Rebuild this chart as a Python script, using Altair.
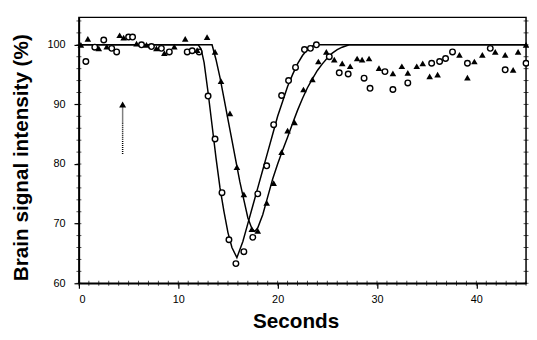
import altair as alt
import pandas as pd

# fitted curves
fit_c_x = [0, 12.0, 12.3, 12.6, 13.0, 13.4, 13.8, 14.2, 14.6, 15.0, 15.4, 15.9, 16.5, 17.0, 17.5, 18.0,
           18.5, 19.0, 19.5, 20.0, 20.5, 21.0, 21.5, 22.0, 22.5, 23.0, 23.5, 24.2, 45]
fit_c_y = [100, 100, 99.3, 97, 92, 86.5, 81, 76, 72, 68.5, 66, 64.3, 67.0, 70, 73, 76,
           79, 82, 85, 88, 90.5, 93, 95, 96.8, 98.2, 99.2, 99.8, 100, 100]
fit_t_x = [0, 13.4, 13.8, 14.2, 14.6, 15.0, 15.4, 15.8, 16.2, 16.6, 17.0, 17.4, 17.7, 18.0, 18.5, 19.0,
           19.5, 20.0, 20.5, 21.0, 21.5, 22.0, 22.5, 23.0, 23.5, 24.0, 24.5, 25.0, 25.5, 26.0, 26.5, 27.2, 45]
fit_t_y = [100, 100, 97.5, 94.5, 91, 87.5, 84, 80.5, 77, 74, 71, 69.2, 68.7, 69.3, 71.5, 74.5,
           77.5, 80, 82.3, 84.5, 86.8, 89, 91, 92.8, 94.3, 95.7, 96.8, 97.8, 98.6, 99.2, 99.6, 100, 100]

# open circles
circ_x = [0.7, 1.6, 2.5, 3.3, 3.8, 5.0, 5.4, 6.3, 7.3, 8.3, 9.1, 10.9, 11.4, 12.1,
          13.0, 13.7, 14.4, 15.1, 15.8, 16.6, 17.5, 18.0, 18.9, 19.6, 20.4, 21.1, 21.8, 22.7, 23.3, 23.9,
          25.2, 26.2, 27.1, 28.7, 29.3, 30.8, 31.6, 33.1, 35.5, 36.3, 36.9, 37.6, 39.1, 41.4, 42.9, 45.0]
circ_y = [97.2, 99.6, 100.8, 99.4, 98.8, 101.3, 101.3, 100.0, 99.7, 99.4, 98.8, 98.8, 99.0, 98.8,
          91.4, 84.2, 75.2, 67.3, 63.3, 65.3, 67.7, 75.0, 79.7, 86.6, 91.5, 94.0, 96.2, 99.2, 99.4, 100.0,
          98.0, 95.3, 95.1, 94.4, 92.7, 95.5, 92.5, 93.6, 96.9, 97.2, 97.7, 98.8, 96.9, 99.4, 95.8, 96.9]

# filled triangles
tri_x = [0.2, 0.9, 2.0, 2.8, 4.1, 4.5, 5.8, 6.8, 7.8, 8.6, 9.6, 10.7, 11.9, 12.9,
         13.7, 14.3, 15.2, 15.9, 16.6, 17.4, 18.0, 18.9, 19.6, 20.4, 21.0, 21.7, 22.6, 23.5, 24.1, 24.9,
         25.7, 26.5, 27.3, 28.0, 28.5, 29.2, 30.2, 31.6, 32.5, 33.1, 34.0, 34.6, 35.3, 36.1, 38.3,
         39.1, 39.8, 40.6, 41.9, 42.9, 43.7, 44.2, 45.0]
tri_y = [100.0, 101.0, 99.4, 99.7, 101.6, 101.2, 100.2, 100.0, 99.4, 98.6, 99.7, 101.0, 99.1, 101.3,
         98.8, 93.9, 88.5, 79.5, 74.9, 69.1, 68.8, 73.5, 76.8, 82.0, 85.6, 87.0, 92.5, 94.2, 97.2, 98.8,
         97.5, 96.9, 96.4, 97.7, 97.5, 97.7, 96.1, 95.2, 96.4, 95.3, 96.4, 96.9, 94.7, 95.0, 98.3,
         94.5, 97.2, 98.3, 98.8, 98.3, 95.8, 98.8, 100.0]

# arrow annotation
arrow_x = [4.4]
arrow_y0 = [81.7]
arrow_y1 = [90.0]

x_ticks = [0, 10, 20, 30, 40]
y_ticks = [60, 70, 80, 90, 100]
x_minor = list(range(0, 46))
y_minor = list(range(60, 105, 2))

W, H = 454, 270
XD = [0, 45]
YD = [60, 104.6]
xs = alt.Scale(domain=XD, nice=False, zero=False)
ys = alt.Scale(domain=YD, nice=False, zero=False)

fit_df = pd.concat([
    pd.DataFrame({"x": fit_c_x, "y": fit_c_y, "s": "c"}),
    pd.DataFrame({"x": fit_t_x, "y": fit_t_y, "s": "t"}),
])
circ_df = pd.DataFrame({"x": circ_x, "y": circ_y})
tri_df = pd.DataFrame({"x": tri_x, "y": tri_y})
arr_df = pd.DataFrame({"x": arrow_x, "y0": arrow_y0, "y1": arrow_y1})
xm_df = pd.DataFrame({"x": x_minor})
ym_df = pd.DataFrame({"y": y_minor})

FONT = "Liberation Sans"

main_x = alt.Axis(values=x_ticks, format="d", title="Seconds", orient="bottom",
                  grid=False, domainColor="black", domainWidth=1.5, tickColor="black",
                  tickSize=5, tickWidth=1.2, labelPadding=6, labelFont=FONT, labelFontSize=11,
                  labelColor="black", titleFont=FONT, titleFontSize=21, titleFontWeight="bold",
                  titleColor="black", titleX=220, titleY=39, titleBaseline="middle")
main_y = alt.Axis(values=y_ticks, format="d", title="Brain signal intensity (%)", orient="left",
                  grid=False, domainColor="black", domainWidth=1.5, tickColor="black",
                  tickSize=5, tickWidth=1.2, labelPadding=9, labelFont=FONT, labelFontSize=11,
                  labelColor="black", titleFont=FONT, titleFontSize=21, titleFontWeight="bold",
                  titleColor="black", titleX=-58, titleY=142, titleBaseline="middle")

lines = alt.Chart(fit_df).mark_line(color="black", strokeWidth=1.5, clip=True).encode(
    x=alt.X("x:Q", scale=xs, axis=main_x),
    y=alt.Y("y:Q", scale=ys, axis=main_y),
    detail="s:N",
)
xminor_b = alt.Chart(xm_df).mark_tick(color="black", size=5, thickness=1).encode(
    x=alt.X("x:Q", scale=xs, axis=None),
    y=alt.value(H),
)
yminor_l = alt.Chart(ym_df).mark_tick(color="black", size=5, thickness=1).encode(
    y=alt.Y("y:Q", scale=ys, axis=None),
    x=alt.value(0),
)
yminor_r = alt.Chart(ym_df).mark_tick(color="black", size=5, thickness=1).encode(
    y=alt.Y("y:Q", scale=ys, axis=None),
    x=alt.value(W),
)
circles = alt.Chart(circ_df).mark_point(shape="circle", filled=False, color="black", fill="white",
                                        fillOpacity=1, size=32, strokeWidth=1.4).encode(
    x=alt.X("x:Q", scale=xs, axis=None),
    y=alt.Y("y:Q", scale=ys, axis=None),
)
tris = alt.Chart(tri_df).mark_point(shape="triangle-up", filled=True, color="black", opacity=1,
                                    size=45).encode(
    x=alt.X("x:Q", scale=xs, axis=None),
    y=alt.Y("y:Q", scale=ys, axis=None),
)
arrow_line = alt.Chart(arr_df).mark_rule(color="black", strokeWidth=1.5, strokeDash=[1, 1]).encode(
    x=alt.X("x:Q", scale=xs, axis=None),
    y=alt.Y("y0:Q", scale=ys, axis=None),
    y2="y1:Q",
)
arrow_head = alt.Chart(arr_df).mark_point(shape="triangle-up", filled=True, color="black",
                                          opacity=1, size=50).encode(
    x=alt.X("x:Q", scale=xs, axis=None),
    y=alt.Y("y1:Q", scale=ys, axis=None),
)

chart = alt.layer(lines, xminor_b, yminor_l, yminor_r, arrow_line, arrow_head, circles, tris).resolve_axis(
    x="independent", y="independent"
).properties(
    width=W, height=H,
    autosize=alt.AutoSizeParams(type="none"),
    padding={"left": 72, "top": 7, "right": 3, "bottom": 50},
    background="white",
).configure_view(stroke="black", strokeWidth=1.5)

chart.save("out.html", embed_options={"renderer": "svg", "actions": False})
